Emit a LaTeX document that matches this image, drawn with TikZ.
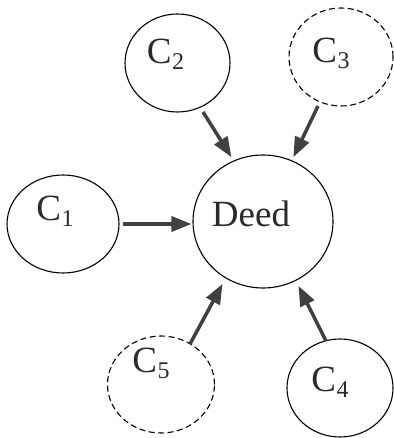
\documentclass[tikz,border=0pt]{standalone}
\usepackage{fontspec}
\setmainfont{Liberation Serif}
\usetikzlibrary{arrows.meta,calc,shapes.geometric}
\definecolor{arrowgray}{HTML}{404040}
\definecolor{inkgray}{HTML}{2A2A2A}
\newcommand{\Csub}[1]{C\kern0.5pt\raisebox{-6pt}{\fontsize{24}{24}\selectfont #1}}
\tikzset{
  cnode/.style={ellipse, draw, line width=1.1pt, inner sep=0pt},
  solidc/.style={cnode},
  dashc/.style={cnode, dash pattern=on 6pt off 3.5pt},
  lbl/.style={inner sep=0pt, text=inkgray, font=\fontsize{37}{40}\selectfont},
  flow/.style={draw=arrowgray, line width=3.5pt,
    -{Triangle[length=20pt,width=15pt,fill=arrowgray]}, shorten >=1pt},
}
\begin{document}
\begin{tikzpicture}[x=1pt,y=-1pt]
\useasboundingbox (0,0) rectangle (393,438);
% circles
\node[solidc, minimum width=140pt, minimum height=133pt] (deed) at (263,221.5) {};
\node[solidc, minimum width=112pt, minimum height=98pt] (c1) at (63,224) {};
\node[solidc, minimum width=105pt, minimum height=98pt] (c2) at (177.5,63) {};
\node[dashc, minimum width=104pt, minimum height=98pt] (c3) at (341,57) {};
\node[solidc, minimum width=106pt, minimum height=98pt] (c4) at (340,388) {};
\node[dashc, minimum width=107pt, minimum height=97pt] (c5) at (161,384.5) {};
% labels
\node[lbl] (tdeed) at ($(deed)+(-12,-8)$) {Deed};
\node[lbl] (t1) at ($(c1)+(-8,-13)$) {\Csub{1}};
\node[lbl] (t2) at ($(c2)+(-12,-9)$) {\Csub{2}};
\node[lbl] (t3) at ($(c3)+(-10,-4)$) {\Csub{3}};
\node[lbl] (t4) at ($(c4)+(-10,-6)$) {\Csub{4}};
\node[lbl] (t5) at ($(c5)+(-10,-21)$) {\Csub{5}};
% arrows into Deed
\draw[flow] (c1.east) ++(3,0) coordinate (a1) (a1) -- (a1 -| deed.west);
\draw[flow] (c2) ++(25.5,49) coordinate (a2) (a2) -- ($(deed)+(-31,-63.5)$) coordinate (b2);
\draw[flow] (c3) ++(-23,49) coordinate (a3) (a3) -- ($(deed)+(30,-63.5)$) coordinate (b3);
\draw[flow] (c5) ++(29,-40.5) coordinate (a5) (a5) -- ($(deed)+(-40,61.5)$) coordinate (b5);
\draw[flow] (c4) ++(-14,-47) coordinate (a4) (a4) -- ($(deed)+(35,63.5)$) coordinate (b4);
\end{tikzpicture}
\end{document}
